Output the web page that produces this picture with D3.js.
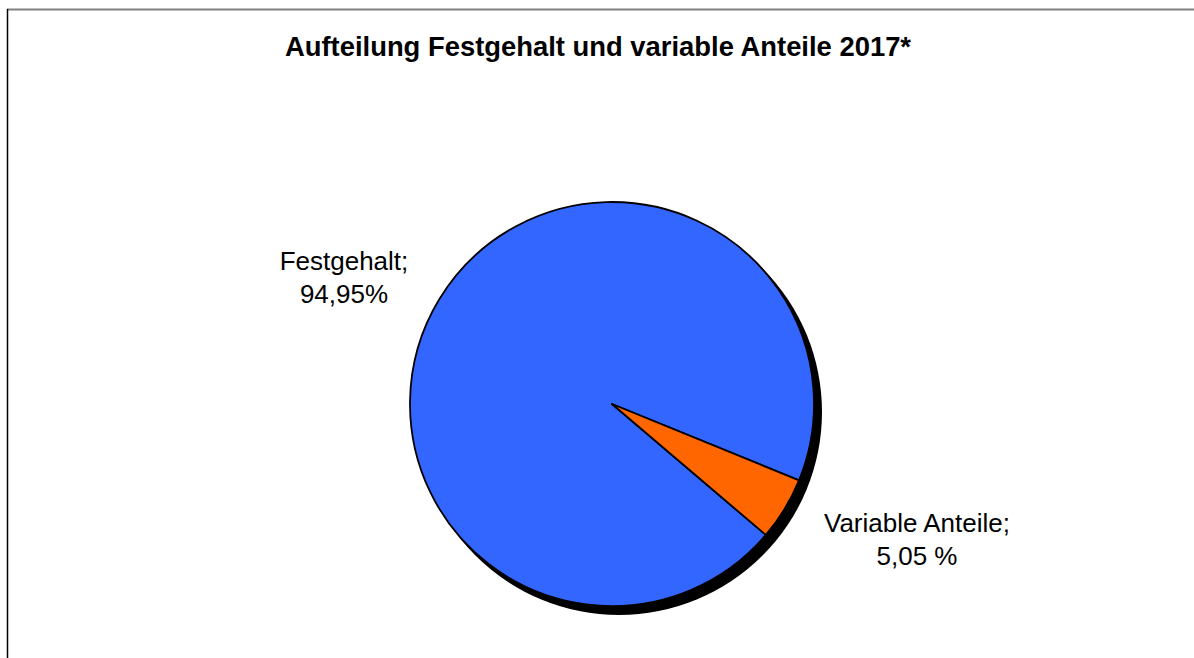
<!DOCTYPE html>
<html>
<head>
<meta charset="utf-8">
<script src="https://cdn.jsdelivr.net/npm/d3@7"></script>
<style>
    body { margin: 0; background: #fff; }
    svg { display: block; }
</style>
</head>
<body>
<div id="chart"></div>
<script>
const title = "Aufteilung Festgehalt und variable Anteile 2017*";
const categories = ["Festgehalt", "Variable Anteile"];
const values = [94.95, 5.05];
const valueLabels = ["94,95%", "5,05 %"];
const colors = ["#3366FF", "#FF6600"];

const width = 1194, height = 658;
const cx = 612, cy = 404, radius = 202;

const svg = d3.select("#chart")
    .append("svg")
    .attr("width", width)
    .attr("height", height);

// frame
svg.append("line")
    .attr("x1", 7).attr("x2", width).attr("y1", 9.5).attr("y2", 9.5)
    .attr("stroke", "#808080").attr("stroke-width", 2);
svg.append("line")
    .attr("x1", 7.5).attr("x2", 7.5).attr("y1", 9).attr("y2", height)
    .attr("stroke", "#000").attr("stroke-width", 1.5);

svg.append("text")
    .attr("x", 598)
    .attr("y", 56)
    .attr("text-anchor", "middle")
    .attr("font-family", "Liberation Sans, Arial, sans-serif")
    .attr("font-weight", "bold")
    .attr("font-size", 27.4)
    .text(title);

const start = 130.4 * Math.PI / 180;
const pie = d3.pie()
    .sort(null)
    .startAngle(start)
    .endAngle(start + 2 * Math.PI);

const arcs = pie(values);
const arc = d3.arc().innerRadius(0).outerRadius(radius);

const g = svg.append("g")
    .attr("transform", "translate(" + cx + "," + cy + ")");

// shadow
g.append("circle")
    .attr("cx", 7).attr("cy", 8)
    .attr("r", radius + 1)
    .attr("fill", "#000");

g.selectAll("path.slice")
    .data(arcs)
    .enter()
    .append("path")
    .attr("class", "slice")
    .attr("d", arc)
    .attr("fill", (d, i) => colors[i])
    .attr("stroke", "#000")
    .attr("stroke-width", 1.8)
    .attr("stroke-linejoin", "round");

// labels
const labelPos = [[344, 270], [917, 532]];
const labels = svg.selectAll("text.lbl")
    .data(arcs)
    .enter()
    .append("text")
    .attr("class", "lbl")
    .attr("text-anchor", "middle")
    .attr("font-family", "Liberation Sans, Arial, sans-serif")
    .attr("font-size", 26)
    .attr("fill", "#000");

labels.append("tspan")
    .attr("x", (d, i) => labelPos[i][0])
    .attr("y", (d, i) => labelPos[i][1])
    .text((d, i) => categories[i] + ";");
labels.append("tspan")
    .attr("x", (d, i) => labelPos[i][0])
    .attr("y", (d, i) => labelPos[i][1] + 33)
    .text((d, i) => valueLabels[i]);
</script>
</body>
</html>
